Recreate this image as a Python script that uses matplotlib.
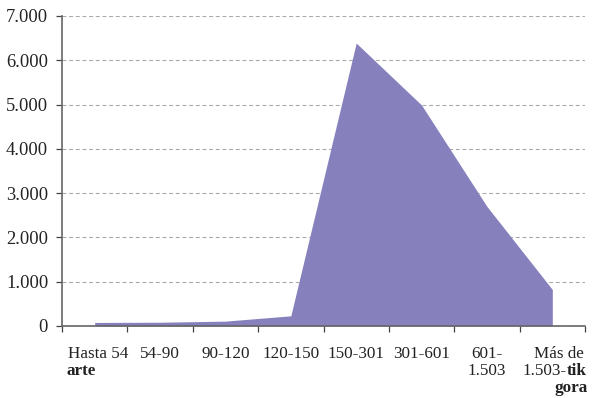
import matplotlib
matplotlib.use('Agg')
import matplotlib.pyplot as plt
from matplotlib.transforms import blended_transform_factory

plt.rcParams['font.family'] = ['Liberation Serif', 'DejaVu Serif']

categories = ['Hasta 54', '54-90', '90-120', '120-150', '150-301', '301-601', '601-1.503', 'Más de 1.503']
values = [80, 85, 110, 230, 6390, 4990, 2700, 825]
yticks = [0, 1000, 2000, 3000, 4000, 5000, 6000, 7000]
ytick_labels = ['0', '1.000', '2.000', '3.000', '4.000', '5.000', '6.000', '7.000']

fig = plt.figure(figsize=(5.93, 3.98), dpi=100)
ax = fig.add_axes([62 / 593, 1 - 326 / 398, (585 - 62) / 593, (326 - 16) / 398])

n = len(categories)
x = [i + 0.5 for i in range(n)]
ax.fill_between(x, 0, values, color='#8681BD', linewidth=0, zorder=2)

ax.set_xlim(0, n)
ax.set_ylim(0, 7000)
ax.set_yticks(yticks)
ax.set_yticklabels(ytick_labels, fontsize=13.3, color='#222222')
ax.set_xticks(range(n + 1))
ax.set_xticklabels([])
ax.yaxis.grid(True, linestyle=(0, (3.5, 2.5)), color='#AAAAAA', linewidth=0.8, zorder=1)
ax.set_axisbelow(True)

for s in ['top', 'right']:
    ax.spines[s].set_visible(False)
for s in ['left', 'bottom']:
    ax.spines[s].set_color('#666666')
    ax.spines[s].set_linewidth(1.2)
ax.tick_params(axis='both', direction='out', length=4, color='#444444', width=0.9)
ax.tick_params(axis='y', pad=6)

# x labels, line by line (some parts bold)
tr = blended_transform_factory(ax.transData, ax.transAxes)
fs = 12.3
line1 = ['Hasta 54', '54-90', '90-120', '120-150', '150-301', '301-601', '601-', 'Más de']
for i, lab in enumerate(line1):
    xi = x[i] + (0.1 if i == 7 else 0.05 if i == 0 else 0)
    ax.text(xi, -0.09, lab, transform=tr, ha='center', va='center', fontsize=fs, color='#222222')
ax.text(x[0] - 0.43, -0.145, 'arte', transform=tr, ha='left', va='center', fontsize=fs, fontweight='bold', color='#222222')
ax.text(x[6], -0.145, '1.503', transform=tr, ha='center', va='center', fontsize=fs, color='#222222')
ax.text(x[7] + 0.22, -0.145, '1.503-', transform=tr, ha='right', va='center', fontsize=fs, color='#222222')
ax.text(x[7] + 0.22, -0.145, 'tik', transform=tr, ha='left', va='center', fontsize=fs, fontweight='bold', color='#222222')
ax.text(x[7] + 0.29, -0.2, 'gora', transform=tr, ha='center', va='center', fontsize=fs, fontweight='bold', color='#222222')

fig.savefig('out.png', dpi=100)
